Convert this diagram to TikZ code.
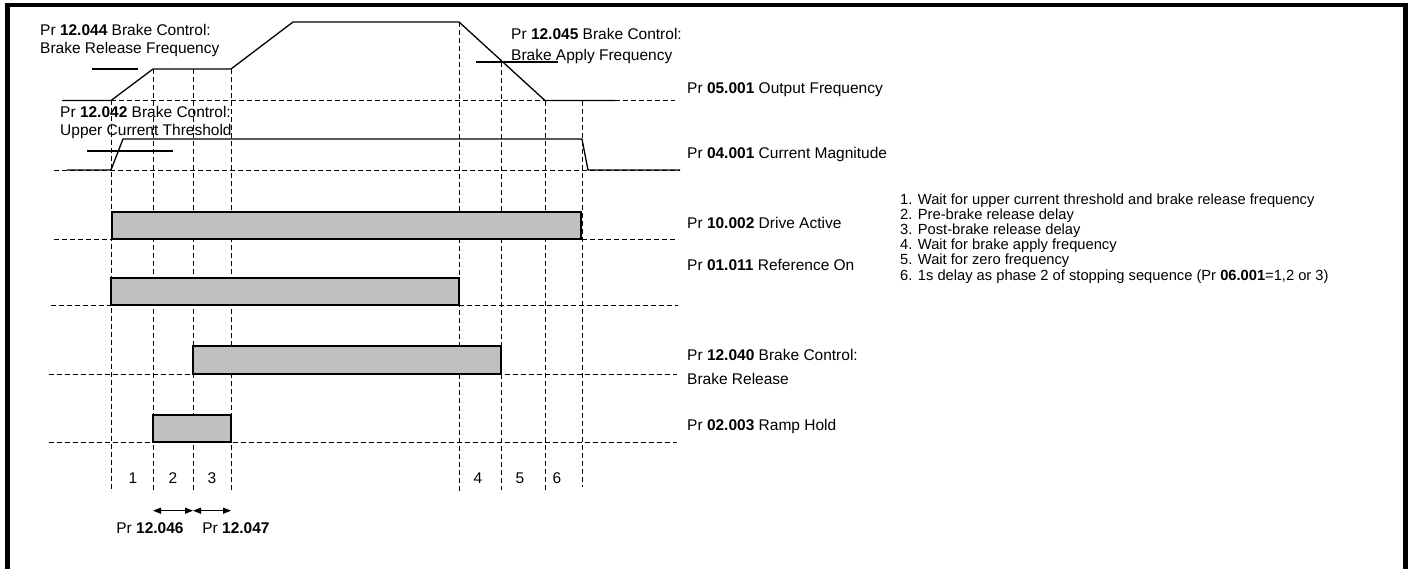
\documentclass[tikz,border=0pt]{standalone}
\usepackage{fontspec}
\setmainfont{Liberation Sans}
\usetikzlibrary{arrows.meta}
\definecolor{barfill}{HTML}{C0C0C0}
\begin{document}
\begin{tikzpicture}[x=1pt,y=-1pt,
  lbl/.style={anchor=base west,inner sep=0pt,font=\fontsize{15.5}{18.5}\selectfont},
  num/.style={anchor=base,inner sep=0pt,font=\fontsize{15.5}{18.5}\selectfont},
  lst/.style={anchor=base west,inner sep=0pt,font=\fontsize{14.7}{15.2}\selectfont},
  wave/.style={line width=1.3pt,line join=round},
  dsh/.style={line width=1pt,dash pattern=on 5pt off 3pt},
  barbox/.style={draw=black,line width=1.5pt,fill=barfill},
  frame/.style={line width=4.8pt,line join=miter},
  dim/.style={line width=1.3pt,{Triangle[length=8pt,width=6pt]}-{Triangle[length=8pt,width=6pt]}}]
\useasboundingbox (0,0) rectangle (1417,568);
% frame
\draw[frame] (7.5,580) -- (7.5,5) -- (1405.5,5) -- (1405.5,580);

% timing coordinates
\foreach \n/\x in {a/111,b/153,c/193,d/231,e/459,f/501,g/545,h/582}{
  \coordinate (\n) at (\x,0);
}
% vertical dashed lines
\draw[dsh] (111,100) -- (111,492);
\draw[dsh] (153,69) -- (153,490);
\draw[dsh] (193,69) -- (193,490);
\draw[dsh] (231,69) -- (231,492);
\draw[dsh] (459,22) -- (459,492);
\draw[dsh] (501,62) -- (501,490);
\draw[dsh] (545,101) -- (545,490);
\draw[dsh] (582,101) -- (582,487);

% horizontal dashed baselines
\draw[dsh] (111,100.5) -- (675,100.5);
\draw[dsh] (54,170) -- (680,170);
\draw[dsh] (54,239) -- (678,239);
\draw[dsh] (51,305) -- (678,305);
\draw[dsh] (49,374) -- (677,374);
\draw[dsh] (49,442) -- (677,442);

% output frequency
\draw[wave] (62,100.5) -- (111,100.5) -- (153,69) -- (231,69) -- (293,22) -- (459,22) -- (545,100.5) -- (615,100.5);
% thresholds
\draw[wave] (92,69) -- (138,69);
\draw[wave] (476,62) -- (558,62);
\draw[wave] (87,151) -- (173,151);
% current magnitude
\draw[wave] (67,170) -- (111,170) -- (123,139) -- (582,139) -- (588,170) -- (680,170);

% bars
\draw[barbox] (112,212) rectangle (581,239);
\draw[barbox] (111,278) rectangle (459,305);
\draw[barbox] (193,346) rectangle (501,374);
\draw[barbox] (153,415) rectangle (231,442);

% labels on waveforms
\node[lbl] (t044a) at (40,35) {Pr \textbf{12.044} Brake Control:};
\node[lbl] (t044b) at (40,53.5) {Brake Release Frequency};
\node[lbl] (t042a) at (60,117) {Pr \textbf{12.042} Brake Control:};
\node[lbl] (t042b) at (60,135) {Upper Current Threshold};
\node[lbl] (t045a) at (511,39) {Pr \textbf{12.045} Brake Control:};
\node[lbl] (t045b) at (511,60.5) {Brake Apply Frequency};

% right labels
\node[lbl] (r1) at (687,93.3) {Pr \textbf{05.001} Output Frequency};
\node[lbl] (r2) at (687,158.3) {Pr \textbf{04.001} Current Magnitude};
\node[lbl] (r3) at (687,228) {Pr \textbf{10.002} Drive Active};
\node[lbl] (r4) at (687,270) {Pr \textbf{01.011} Reference On};
\node[lbl] (r5a) at (687,360) {Pr \textbf{12.040} Brake Control:};
\node[lbl] (r5b) at (687,384) {Brake Release};
\node[lbl] (r6) at (687,430) {Pr \textbf{02.003} Ramp Hold};

% phase numbers
\node[num] (n1) at (133,483) {1};
\node[num] (n2) at (173,483) {2};
\node[num] (n3) at (212,483) {3};
\node[num] (n4) at (478,483) {4};
\node[num] (n5) at (520,483) {5};
\node[num] (n6) at (557,483) {6};

% delay arrows
\coordinate (p1) at (153,510.7);
\coordinate (p2) at (193,510.7);
\coordinate (p3) at (231,510.7);
\draw[dim] (p1) -- (p2);
\draw[dim] (p2) -- (p3);
\node[num] (d1) at (150,533) {Pr \textbf{12.046}};
\node[num] (d2) at (236,533) {Pr \textbf{12.047}};

% legend
\node[lst] (l1) at (900,204) {1. Wait for upper current threshold and brake release frequency};
\node[lst] (l2) at (900,219.2) {2. Pre-brake release delay};
\node[lst] (l3) at (900,234.4) {3. Post-brake release delay};
\node[lst] (l4) at (900,249.6) {4. Wait for brake apply frequency};
\node[lst] (l5) at (900,264.8) {5. Wait for zero frequency};
\node[lst] (l6) at (900,280) {6. 1s delay as phase 2 of stopping sequence (Pr \textbf{06.001}=1,2 or 3)};
\end{tikzpicture}
\end{document}
